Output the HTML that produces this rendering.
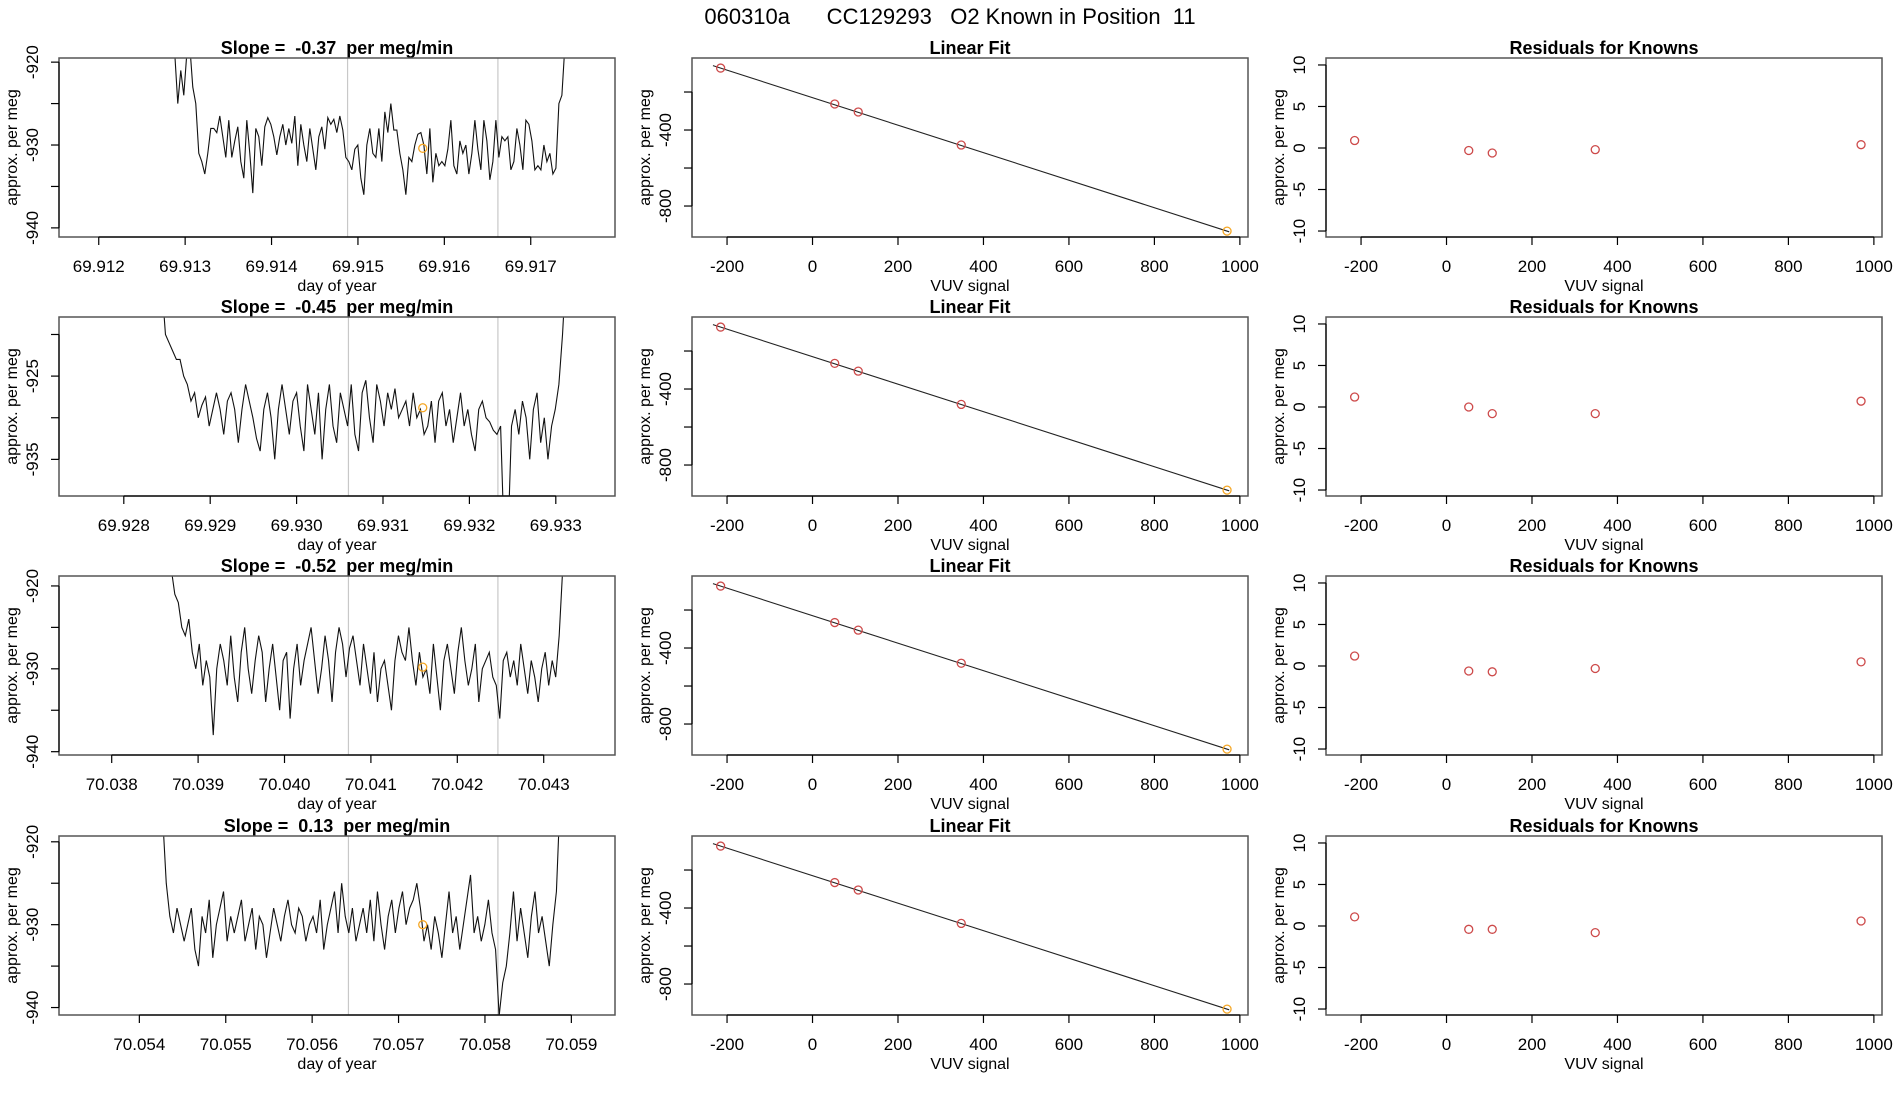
<!DOCTYPE html>
<html><head><meta charset="utf-8"><style>
html,body{margin:0;padding:0;background:#fff;}
svg{display:block;font-family:"Liberation Sans",Arial,sans-serif;}
svg text{white-space:pre;}
</style></head><body>
<svg id="chart" width="1900" height="1100" viewBox="0 0 1900 1100">
<text x="950" y="24" text-anchor="middle" font-size="22" xml:space="preserve">060310a      CC129293   O2 Known in Position  11</text>
</svg>
<script>
// ---- data ----
const slopeTitles = ["-0.37", "-0.45", "-0.52", "0.13"];
const dayTickStart = [69.912, 69.928, 70.038, 70.054];
const dayXmin = [69.91154, 69.92725, 70.03739, 70.05307];
const dayYmax = [-919.5, -917.9, -918.8, -919.3];
const dayYmin = [-941.1, -939.4, -940.4, -940.9];
const seriesStart = [69.91288, 69.92844, 70.03869, 70.05427];
const seriesEnd = [69.91743, 69.93312, 70.04326, 70.05891];
const grayLineA = [69.91488, 69.93060, 70.04074, 70.05642];
const grayLineB = [69.91662, 69.93233, 70.04247, 70.05815];
const orangeX = [69.91575, 69.93146, 70.04160, 70.05728];
const orangeY = [-930.4, -928.8, -929.8, -930.0];
const series1 = [-919,-925,-921,-924,-919,-918,-923,-925,-931,-932,-933.5,-931,-928,-928,-928.5,-926.5,-929,-931.5,-927,-931.5,-929.5,-927.8,-932,-934,-927,-931,-935.8,-928,-929,-932.5,-927.8,-926.7,-927.5,-929,-931.2,-929,-927.5,-930,-928,-929.8,-926.5,-932.5,-927.5,-930,-932,-928,-930.5,-933,-929,-927.8,-930.5,-926.7,-927.5,-926.9,-928.5,-926.5,-928.2,-931.5,-932,-933,-930.5,-930,-934,-936,-930,-928,-931,-931.5,-928,-932,-926,-928.5,-925,-928.2,-928.2,-931,-933,-936,-931.5,-932,-930,-928.7,-928.5,-930,-933.5,-928,-934.5,-931,-932.5,-932,-932.5,-930.5,-927,-932.5,-933.5,-929.5,-931,-930,-933.5,-931,-927,-930.5,-933,-927,-929.5,-934.2,-932,-927,-931.5,-929,-929.5,-929,-933,-932,-928,-930,-933,-927,-927.5,-929.5,-933,-932.5,-933,-930,-932,-931,-933.5,-932.8,-925,-924,-918,-912];
const series2 = [-914,-920,-921,-922,-923,-923,-925,-926,-928,-927,-930,-928.5,-927.5,-931,-929,-927,-929,-932,-928,-927,-929,-933,-929,-926,-928,-930,-932.5,-934,-929,-927,-930,-935,-929,-926,-929,-932,-928,-927,-931,-934,-926,-929,-932,-927,-935,-929,-926,-931,-933,-927,-929,-931,-926,-932,-934,-927,-925.5,-930,-933,-926,-928,-931,-927,-929,-926.5,-930,-929,-928,-931,-927,-930,-929,-932,-931,-928,-933,-928,-927,-931,-929,-933,-930,-927,-931,-929,-932,-934,-929,-928,-930,-930.5,-931.5,-932,-931,-945,-945,-931,-929,-932,-928,-930,-935,-929,-927,-933,-930,-935,-931,-929,-926,-920,-912];
const series3 = [-918,-921,-922,-925,-926,-924,-928,-930,-927,-932,-929,-931,-938,-930,-927,-929,-932,-926,-931,-934,-928,-925,-930,-933,-929,-926,-928,-934,-930,-927,-931,-935,-929,-928,-936,-930,-927,-932,-929,-927,-925,-929,-933,-930,-926,-929,-934,-928,-925,-927,-931,-927.5,-926,-929,-932,-927,-930,-933,-928,-934,-930,-929,-932,-935,-929,-926,-928,-929,-925,-929,-932,-928,-931,-930,-933,-927,-931,-935,-929,-927,-930,-933,-928,-925,-929,-932,-930,-927,-934,-930,-929,-928,-931,-932,-936,-929,-928,-931,-929,-932,-927,-930,-933,-929,-931,-934,-930,-928,-932,-929,-931,-926,-918,-912];
const series4 = [-917,-925,-929,-931,-928,-930,-932,-930,-928,-933,-935,-929,-931,-927,-934,-930,-928,-926,-932,-929,-931,-929,-927,-932,-930,-928,-933,-929,-930,-934,-931,-928,-930,-932,-929,-927,-930,-931,-928,-929,-932,-930,-929,-931,-927,-933,-930,-928,-926,-931,-925,-929,-931,-928,-932,-930,-928,-931,-927,-932,-926,-930,-933,-929,-927,-931,-928,-926,-930,-928,-927,-925,-928,-932,-930,-933,-929,-931,-934,-930,-926,-931,-929,-933,-930,-927,-924,-931,-929,-932,-930,-927,-931,-933,-941,-937,-935,-931,-926,-932,-928,-931,-934,-929,-926,-931,-929,-932,-935,-930,-926,-915,-908];
const allSeries = [series1, series2, series3, series4];
const vuvSignal = [-215, 52, 107, 348, 970];
const fitY1 = [-74, -263, -305, -479, -932];
const fitY2 = [-74, -265, -306, -481, -932];
const fitY3 = [-74, -266, -306, -480, -932];
const fitY4 = [-74, -266, -305, -481, -932];
const allFitY = [fitY1, fitY2, fitY3, fitY4];
const fitSlope = [-0.724, -0.724, -0.724, -0.724];
const fitIntercept = [-229.7, -229.7, -229.7, -229.7];
const resid1 = [0.9, -0.3, -0.6, -0.2, 0.4];
const resid2 = [1.2, 0.0, -0.8, -0.8, 0.7];
const resid3 = [1.2, -0.6, -0.7, -0.3, 0.5];
const resid4 = [1.1, -0.4, -0.4, -0.8, 0.6];
const allResid = [resid1, resid2, resid3, resid4];
const vuvTicks = [-200, 0, 200, 400, 600, 800, 1000];
const fitYTicks = [-200, -400, -600, -800];
const fitYLabels = ["", "-400", "", "-800"];
const residTicks = [10, 5, 0, -5, -10];
const vuvXmin = -282, vuvXmax = 1019;
const fitYmin = -963, fitYmax = -21;
const residYmin = -10.72, residYmax = 10.84;

// ---- layout ----
const svg = document.getElementById('chart');
const NS = 'http://www.w3.org/2000/svg';
const colLeft = [59, 692, 1326], W = 556;
const rowTop = [58, 317, 576, 836], H = 179;
const DAYSPAN = W / 86400;
function mk(tag, attrs, parent) {
  const e = document.createElementNS(NS, tag);
  for (const k in attrs) e.setAttribute(k, attrs[k]);
  (parent || svg).appendChild(e);
  return e;
}
function txt(s, attrs, parent) { const t = mk('text', attrs, parent); t.textContent = s; return t; }

function frame(g, L, T, title) {
  const t = txt(title, {x: L + W/2, y: T - 4, 'text-anchor': 'middle', 'font-size': 18, 'font-weight': 'bold'}, g);
  
  
  const b = mk('rect', {x: L, y: T, width: W, height: H, fill: 'none', stroke: '#555', 'stroke-width': 1.5}, g);
  
  
}
function xAxis(g, L, T, ticks, labels, sx, xlabel) {
  const y0 = T + H;
  const px = ticks.map(sx);
  mk('line', {x1: px[0], x2: px[px.length-1], y1: y0, y2: y0, stroke: '#000', 'stroke-width': 1.2}, g);
  ticks.forEach((v, i) => {
    mk('line', {x1: px[i], x2: px[i], y1: y0, y2: y0 + 8, stroke: '#000', 'stroke-width': 1.2}, g);
    const t = txt(labels[i], {x: px[i], y: y0 + 35, 'text-anchor': 'middle', 'font-size': 17}, g);
    
    
  });
  const xl = txt(xlabel, {x: L + W/2, y: y0 + 54, 'text-anchor': 'middle', 'font-size': 16}, g);
  
  
}
function yAxis(g, L, T, ticks, labels, sy, ylabel) {
  const py = ticks.map(sy);
  mk('line', {x1: L, x2: L, y1: Math.min(...py), y2: Math.max(...py), stroke: '#000', 'stroke-width': 1.2}, g);
  ticks.forEach((v, i) => {
    mk('line', {x1: L - 8, x2: L, y1: py[i], y2: py[i], stroke: '#000', 'stroke-width': 1.2}, g);
    if (labels[i] !== '') {
      const t = txt(labels[i], {x: L - 21, y: py[i], 'text-anchor': 'middle', 'font-size': 17, transform: `rotate(-90 ${L - 21} ${py[i]})`}, g);
      
      
    }
  });
  const cx = L - 42, cy = T + H/2;
  const yl = txt(ylabel, {x: cx, y: cy, 'text-anchor': 'middle', 'font-size': 16, transform: `rotate(-90 ${cx} ${cy})`}, g);
  
  
}

const defs = mk('defs', {});
for (let r = 0; r < 4; r++) {
  const T = rowTop[r];
  // ---- column 1: time series ----
  {
    const L = colLeft[0];
    const g = mk('g', {});
    
    
    const xmin = dayXmin[r], ymin = dayYmin[r], ymax = dayYmax[r];
    const sx = v => L + (v - xmin) / DAYSPAN * W;
    const sy = v => T + (ymax - v) / (ymax - ymin) * H;
    const cp = mk('clipPath', {id: 'clip' + r}, defs);
    mk('rect', {x: L, y: T, width: W, height: H}, cp);
    [grayLineA[r], grayLineB[r]].forEach(v => {
      const l = mk('line', {x1: sx(v), x2: sx(v), y1: T, y2: T + H, stroke: '#c8c8c8', 'stroke-width': 1.2}, g);
      
      
    });
    const s = allSeries[r];
    const dt = (seriesEnd[r] - seriesStart[r]) / (s.length - 1);
    const pts = s.map((v, i) => sx(seriesStart[r] + i * dt).toFixed(2) + ',' + sy(v).toFixed(2)).join(' ');
    const pl = mk('polyline', {points: pts, fill: 'none', stroke: '#111', 'stroke-width': 1.1, 'clip-path': `url(#clip${r})`}, g);
    
    
    const oc = mk('circle', {cx: sx(orangeX[r]), cy: sy(orangeY[r]), r: 4, fill: 'none', stroke: '#f5a623', 'stroke-width': 1.3}, g);
    
    
    frame(g, L, T, 'Slope =  ' + slopeTitles[r] + '  per meg/min');
    const dticks = [0,1,2,3,4,5].map(k => dayTickStart[r] + k * 0.001);
    xAxis(g, L, T, dticks, dticks.map(v => v.toFixed(3)), sx, 'day of year');
    const yt = [], yl = [];
    for (let v = -900; v >= -960; v -= 5) if (v <= ymax && v >= ymin) { yt.push(v); }
    const labelMod = (r === 1) ? 5 : 0;
    yt.forEach(v => yl.push(Math.abs(v % 10) === labelMod ? String(v) : ''));
    yAxis(g, L, T, yt, yl, sy, 'approx. per meg');
  }
  // ---- column 2: linear fit ----
  {
    const L = colLeft[1];
    const g = mk('g', {});
    
    
    const sx = v => L + (v - vuvXmin) / (vuvXmax - vuvXmin) * W;
    const sy = v => T + (fitYmax - v) / (fitYmax - fitYmin) * H;
    const x1 = -233, x2 = 975;
    const fl = mk('line', {x1: sx(x1), y1: sy(fitSlope[r]*x1 + fitIntercept[r]), x2: sx(x2), y2: sy(fitSlope[r]*x2 + fitIntercept[r]), stroke: '#222', 'stroke-width': 1.1}, g);
    
    
    vuvSignal.forEach((v, i) => {
      const c = mk('circle', {cx: sx(v), cy: sy(allFitY[r][i]), r: 4, fill: 'none', stroke: i === vuvSignal.length - 1 ? '#f5a623' : '#cd4a4a', 'stroke-width': 1.3}, g);
      
      
    });
    frame(g, L, T, 'Linear Fit');
    xAxis(g, L, T, vuvTicks, vuvTicks.map(String), sx, 'VUV signal');
    yAxis(g, L, T, fitYTicks, fitYLabels, sy, 'approx. per meg');
  }
  // ---- column 3: residuals ----
  {
    const L = colLeft[2];
    const g = mk('g', {});
    
    
    const sx = v => L + (v - vuvXmin) / (vuvXmax - vuvXmin) * W;
    const sy = v => T + (residYmax - v) / (residYmax - residYmin) * H;
    vuvSignal.forEach((v, i) => {
      const c = mk('circle', {cx: sx(v), cy: sy(allResid[r][i]), r: 4, fill: 'none', stroke: '#cd4a4a', 'stroke-width': 1.3}, g);
      
      
    });
    frame(g, L, T, 'Residuals for Knowns');
    xAxis(g, L, T, vuvTicks, vuvTicks.map(String), sx, 'VUV signal');
    yAxis(g, L, T, residTicks, residTicks.map(String), sy, 'approx. per meg');
  }
}
</script>
</body></html>
